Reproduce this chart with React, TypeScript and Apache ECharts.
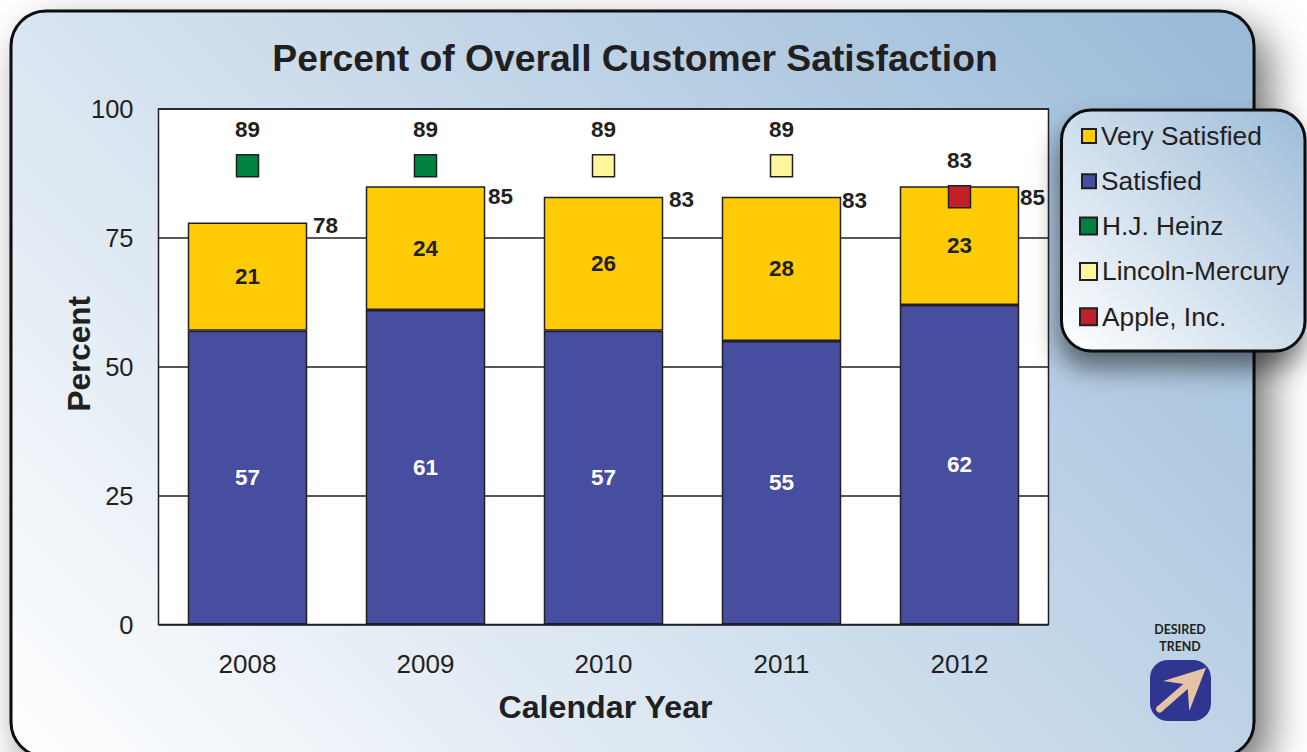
import React, { useEffect, useRef } from "react";
import * as echarts from "echarts";

const years = ["2008", "2009", "2010", "2011", "2012"];
const satisfied = [57, 61, 57, 55, 62];
const verySatisfied = [21, 24, 26, 28, 23];
const totals = [78, 85, 83, 83, 85];
const heinz = [89, 89, null, null, null];
const lincoln = [null, null, 89, 89, null];
const apple = [null, null, null, null, 83];
const yTicks = [0, 25, 50, 75, 100];

const totalLabelOffsets = [
  [78, 3],
  [75, 10],
  [78, 3],
  [73, 4],
  [73, 11],
];

const FONT = "Liberation Sans";
const INK = "#231f20";
const EDGE = "#1f1f24";

const panelFill = () =>
  new echarts.graphic.LinearGradient(
    11,
    757,
    1005.5,
    -237.5,
    [
      { offset: 0, color: "#ffffff" },
      { offset: 1, color: "#98b9d8" },
    ],
    true
  );

const legendFill = () =>
  new echarts.graphic.LinearGradient(0, 1, 1, 0, [
    { offset: 0, color: "#ffffff" },
    { offset: 1, color: "#9dbcd9" },
  ]);

function markerSeries(name: string, data: (number | null)[], color: string) {
  return {
    name,
    type: "scatter",
    data,
    z: 6,
    symbol: "rect",
    symbolSize: 22,
    itemStyle: { color, borderColor: EDGE, borderWidth: 1.5, opacity: 1 },
    label: {
      show: true,
      position: "top",
      distance: 13,
      fontFamily: FONT,
      fontWeight: "bold",
      fontSize: 22.5,
      color: INK,
    },
  };
}

function barLabel(color: string) {
  return {
    show: true,
    position: "inside",
    fontFamily: FONT,
    fontWeight: "bold",
    fontSize: 22.5,
    color,
  };
}

export default function App() {
  const ref = useRef<HTMLDivElement>(null);
  useEffect(() => {
    const chart = echarts.init(ref.current!, null, { renderer: "svg" });
    chart.setOption({
      animation: false,
      backgroundColor: "#ffffff",
      title: {
        text: "Percent of Overall Customer Satisfaction",
        left: 630,
        top: 34,
        textAlign: "center",
        textStyle: { fontFamily: FONT, fontWeight: "bold", fontSize: 37.3, color: INK },
      },
      grid: {
        left: 158.5,
        top: 109,
        width: 890,
        height: 515.5,
        show: true,
        backgroundColor: "#ffffff",
        borderColor: EDGE,
        borderWidth: 1.5,
      },
      xAxis: {
        type: "category",
        data: years,
        name: "Calendar Year",
        nameLocation: "middle",
        nameGap: 66,
        nameMoveOverlap: false,
        nameTextStyle: {
          fontFamily: FONT,
          fontWeight: "bold",
          fontSize: 32.2,
          color: INK,
          padding: [0, 0, 0, 4],
        },
        axisLine: { show: false },
        axisTick: { show: false },
        axisLabel: { fontFamily: FONT, fontSize: 26, color: INK, margin: 26 },
      },
      yAxis: {
        type: "value",
        min: yTicks[0],
        max: yTicks[yTicks.length - 1],
        interval: yTicks[1] - yTicks[0],
        name: "Percent",
        nameLocation: "middle",
        nameGap: 64,
        nameMoveOverlap: false,
        nameTextStyle: {
          fontFamily: FONT,
          fontWeight: "bold",
          fontSize: 31.5,
          color: INK,
          padding: [0, 0, 0, 26],
        },
        axisLine: { show: false },
        axisTick: { show: false },
        axisLabel: { fontFamily: FONT, fontSize: 25.5, color: INK, margin: 25 },
        splitLine: { show: true, lineStyle: { color: EDGE, width: 1.5 } },
      },
      legend: [
        {
          data: [{ name: "Very Satisfied" }, { name: "Satisfied" }],
          orient: "vertical",
          left: 1081,
          top: 121,
          padding: 0,
          itemWidth: 14,
          itemHeight: 14,
          itemGap: 15.3,
          icon: "rect",
          textStyle: { fontFamily: FONT, fontSize: 26.3, color: INK, lineHeight: 30 },
        },
        {
          data: [
            { name: "H.J. Heinz" },
            { name: "Lincoln-Mercury" },
            { name: "Apple, Inc." },
          ],
          orient: "vertical",
          left: 1079,
          top: 211,
          padding: 0,
          itemWidth: 17,
          itemHeight: 17,
          itemGap: 15.4,
          icon: "rect",
          textStyle: { fontFamily: FONT, fontSize: 26.3, color: INK, lineHeight: 30 },
        },
      ],
      series: [
        {
          name: "Satisfied",
          type: "bar",
          stack: "total",
          data: satisfied,
          barWidth: 119.5,
          z: 3,
          itemStyle: { color: "#474ea0", borderColor: EDGE, borderWidth: 1.5 },
          label: barLabel("#ffffff"),
        },
        {
          name: "Very Satisfied",
          type: "bar",
          stack: "total",
          data: verySatisfied,
          barWidth: 119.5,
          z: 3,
          itemStyle: { color: "#ffcb05", borderColor: EDGE, borderWidth: 1.5 },
          label: barLabel(INK),
        },
        {
          name: "Total",
          type: "scatter",
          z: 5,
          symbolSize: 1,
          itemStyle: { color: "rgba(0,0,0,0)", opacity: 1 },
          data: totals.map((value, i) => ({
            value,
            label: { offset: totalLabelOffsets[i] },
          })),
          label: {
            show: true,
            position: "inside",
            fontFamily: FONT,
            fontWeight: "bold",
            fontSize: 22.5,
            color: INK,
            opacity: 1,
          },
        },
        markerSeries("H.J. Heinz", heinz, "#00833e"),
        markerSeries("Lincoln-Mercury", lincoln, "#fff59b"),
        markerSeries("Apple, Inc.", apple, "#c1202b"),
      ],
      graphic: {
        elements: [
          {
            type: "rect",
            z: -10,
            shape: { x: 11, y: 11, width: 1243, height: 746, r: 35 },
            style: {
              fill: panelFill(),
              stroke: "#0a0a0a",
              lineWidth: 3,
              shadowBlur: 40,
              shadowOffsetX: 14,
              shadowOffsetY: 18,
              shadowColor: "rgba(0,0,0,0.55)",
            },
          },
          {
            type: "rect",
            z: 3,
            shape: { x: 1061.5, y: 110, width: 243.5, height: 241, r: 30 },
            style: {
              fill: legendFill(),
              stroke: "#0a0a0a",
              lineWidth: 3,
              shadowBlur: 26,
              shadowOffsetX: -2,
              shadowOffsetY: 16,
              shadowColor: "rgba(0,0,0,0.5)",
            },
          },
          {
            type: "text",
            z: 3,
            x: 1180,
            y: 623,
            style: {
              text: "DESIRED",
              fontFamily: "Lato",
              fontWeight: "bold",
              fontSize: 12.4,
              fill: INK,
              textAlign: "center",
            },
          },
          {
            type: "text",
            z: 3,
            x: 1180,
            y: 640,
            style: {
              text: "TREND",
              fontFamily: "Lato",
              fontWeight: "bold",
              fontSize: 12.4,
              fill: INK,
              textAlign: "center",
            },
          },
          {
            type: "rect",
            z: 3,
            shape: { x: 1150, y: 660, width: 61, height: 61, r: 18 },
            style: { fill: "#2e368f" },
          },
          {
            type: "polygon",
            z: 4,
            shape: {
              points: [
                [1206, 667.7],
                [1163.3, 681],
                [1183.3, 684],
                [1157.3, 706.5],
                [1161.7, 711.7],
                [1187.7, 689],
                [1189.3, 711],
              ],
            },
            style: { fill: "#e6c3a5" },
          },
          {
            type: "circle",
            z: 4,
            shape: { cx: 1159.5, cy: 709, r: 3.6 },
            style: { fill: "#e6c3a5" },
          },
        ],
      },
    });
    return () => chart.dispose();
  }, []);
  return (
    <div
      ref={ref}
      style={{ position: "fixed", left: 0, top: 0, width: 1307, height: 752 }}
    />
  );
}
